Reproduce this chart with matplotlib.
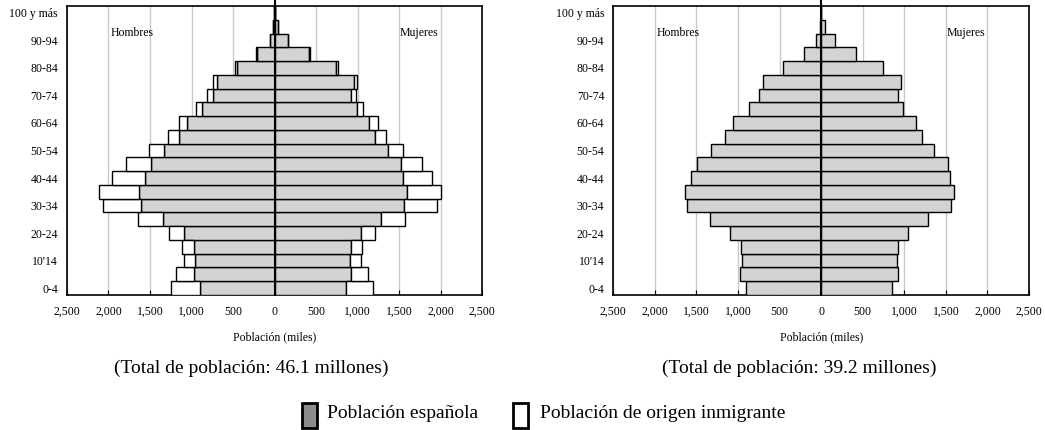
import matplotlib
matplotlib.use("Agg")
import matplotlib.pyplot as plt
from matplotlib.ticker import FuncFormatter, FixedLocator
from matplotlib.patches import Rectangle

plt.rcParams['font.family'] = ['Liberation Serif', 'DejaVu Serif']

age_groups = ["0-4", "5-9", "10'14", "15-19", "20-24", "25-29", "30-34", "35-39",
              "40-44", "45-49", "50-54", "55-59", "60-64", "65-69", "70-74",
              "75-79", "80-84", "85-89", "90-94", "95-99", "100 y más"]

# thousands of people
men_spanish = [900, 972, 958, 966, 1095, 1339, 1610, 1634, 1560, 1493, 1327,
               1155, 1060, 868, 746, 698, 455, 208, 56, 15, 2]
men_immigrant = [343, 215, 137, 149, 172, 309, 455, 475, 401, 295, 185,
                 124, 87, 78, 64, 40, 26, 9, 4, 2, 1]
women_spanish = [856, 924, 914, 920, 1045, 1288, 1556, 1592, 1552, 1520, 1362,
                 1210, 1142, 988, 924, 958, 738, 419, 164, 44, 4]
women_immigrant = [331, 207, 129, 139, 166, 284, 405, 413, 349, 260, 186,
                   129, 109, 79, 62, 36, 24, 10, 4, 2, 1]

x_ticks = [-2500, -2000, -1500, -1000, -500, 0, 500, 1000, 1500, 2000, 2500]
subtitles = ["(Total de población: 46.1 millones)", "(Total de población: 39.2 millones)"]

SP_COLOR = "#d3d3d3"
fig = plt.figure(figsize=(10.45, 4.3), dpi=100)

W, H = 1045.0, 430.0
ax_specs = [(67, 482), (613.3, 1029)]
top_px, bot_px = 6, 295


def draw(ax, with_imm):
    y = list(range(len(age_groups)))
    ax.barh(y, [-v for v in men_spanish], height=1.0, color=SP_COLOR,
            edgecolor="black", linewidth=1.0, zorder=3)
    ax.barh(y, women_spanish, height=1.0, color=SP_COLOR,
            edgecolor="black", linewidth=1.0, zorder=3)
    if with_imm:
        ax.barh(y, [-v for v in men_immigrant], left=[-v for v in men_spanish],
                height=1.0, color="white", edgecolor="black", linewidth=1.0, zorder=3)
        ax.barh(y, women_immigrant, left=women_spanish,
                height=1.0, color="white", edgecolor="black", linewidth=1.0, zorder=3)
    ax.set_xlim(-2500, 2500)
    ax.set_ylim(-0.5, len(age_groups) - 0.5)
    ax.xaxis.set_major_locator(FixedLocator(x_ticks))
    ax.xaxis.set_major_formatter(FuncFormatter(lambda v, p: f"{abs(int(v)):,}"))
    ax.set_yticks(y[::2])
    ax.set_yticklabels(age_groups[::2])
    ax.grid(axis="x", color="#c8c8c8", linewidth=1.0, zorder=0)
    ax.set_axisbelow(True)
    ax.axvline(0, color="black", linewidth=1.5, zorder=4, ymax=1.02, clip_on=False)
    for s in ax.spines.values():
        s.set_color("black")
        s.set_linewidth(1.2)
    ax.tick_params(axis="y", length=0, pad=6.5, labelsize=8.5)
    ax.tick_params(axis="x", length=3.5, direction="in", pad=8, labelsize=8.5)
    ax.text(-1980, 0.907, "Hombres", transform=ax.get_xaxis_transform(),
            ha="left", va="center", fontsize=8.5)
    ax.text(1970, 0.907, "Mujeres", transform=ax.get_xaxis_transform(),
            ha="right", va="center", fontsize=8.5)


for i, (l, r) in enumerate(ax_specs):
    ax = fig.add_axes([l / W, 1 - bot_px / H, (r - l) / W, (bot_px - top_px) / H])
    draw(ax, i == 0)
    cx = (l + r) / 2 / W
    fig.text(cx, 1 - 337 / H, "Población (miles)", ha="center", va="center", fontsize=8.5)
    sub_x = [251, 799][i] / W
    fig.text(sub_x, 1 - 368 / H, subtitles[i], ha="center", va="center", fontsize=14)

# legend
fig.patches.append(Rectangle((302 / W, 2 / H), 15 / W, 25 / H, transform=fig.transFigure,
                             facecolor="#8c8c8c", edgecolor="black", linewidth=2))
fig.text(327 / W, 1 - 414 / H, "Población española", ha="left", va="center", fontsize=14)
fig.patches.append(Rectangle((513 / W, 2 / H), 15 / W, 25 / H, transform=fig.transFigure,
                             facecolor="white", edgecolor="black", linewidth=2))
fig.text(540 / W, 1 - 414 / H, "Población de origen inmigrante", ha="left", va="center", fontsize=14)

fig.savefig("out.png", dpi=100)
